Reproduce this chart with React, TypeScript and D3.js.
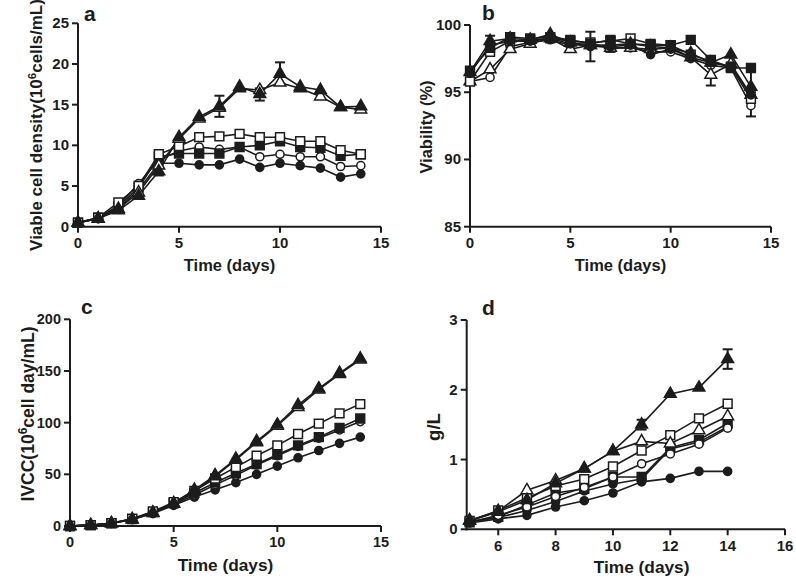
import React from "react";
import * as d3 from "d3";

const daysA = d3.range(0, 15);
const daysD = d3.range(5, 15);

// Panel a: viable cell density (10^6 cells/mL)
const aFilledCircle = [0.5, 1.0, 2.3, 4.5, 7.8, 7.8, 7.6, 7.6, 8.3, 7.3, 7.8, 7.5, 7.2, 6.1, 6.5];
const aOpenCircle = [0.5, 1.0, 2.6, 5.3, 8.2, 9.3, 9.8, 9.5, 9.8, 8.6, 8.9, 8.6, 8.6, 7.4, 7.5];
const aFilledSquare = [0.5, 1.1, 2.5, 4.8, 8.6, 9.0, 9.0, 9.0, 9.8, 10.0, 10.5, 9.8, 9.7, 8.7, 8.9];
const aOpenSquare = [0.5, 1.1, 3.0, 5.0, 8.9, 9.9, 11.0, 11.1, 11.4, 11.0, 11.0, 10.5, 10.5, 9.4, 8.9];
const aFilledTriangle = [0.5, 1.0, 2.0, 3.8, 6.8, 11.0, 13.5, 14.8, 17.2, 16.3, 18.8, 17.2, 16.8, 14.7, 14.8];
const aOpenTriangle = [0.5, 1.0, 2.2, 4.2, 7.5, 10.8, 13.3, 14.6, 17.0, 16.8, 17.7, 17.0, 16.0, 14.7, 14.4];
const aErrors = [
  { day: 4, lo: 6.3, hi: 7.4 },
  { day: 7, lo: 13.5, hi: 16.1 },
  { day: 9, lo: 15.5, hi: 17.0 },
  { day: 10, lo: 17.5, hi: 20.2 },
];

// Panel b: viability (%)
const bFilledSquare = [96.6, 98.3, 99.1, 99.0, 99.1, 98.9, 98.6, 98.9, 98.6, 98.5, 98.5, 98.9, 97.4, 96.8, 96.8];
const bFilledTriangle = [96.5, 98.8, 99.0, 98.9, 99.3, 98.7, 98.5, 98.5, 98.6, 98.4, 98.3, 97.9, 97.2, 97.8, 95.4];
const bFilledCircle = [96.4, 98.5, 98.8, 98.8, 99.0, 98.6, 98.4, 98.4, 98.5, 97.8, 98.2, 97.6, 97.2, 96.9, 94.8];
const bOpenSquare = [95.8, 98.0, 98.8, 98.9, 99.0, 98.8, 98.7, 98.8, 99.0, 98.6, 98.5, 97.8, 97.3, 96.9, 94.5];
const bOpenCircle = [95.8, 96.1, 98.4, 98.7, 98.9, 98.5, 98.6, 98.3, 98.3, 98.0, 98.0, 97.5, 97.0, 96.8, 94.0];
const bOpenTriangle = [95.8, 96.7, 98.2, 98.6, 99.0, 98.2, 98.5, 98.3, 98.3, 98.2, 98.3, 97.6, 96.3, 97.1, 94.8];
const bErrors = [
  { day: 1, lo: 97.8, hi: 99.2 },
  { day: 6, lo: 97.3, hi: 99.5 },
  { day: 7, lo: 98.0, hi: 99.1 },
  { day: 12, lo: 95.5, hi: 97.0 },
  { day: 14, lo: 93.2, hi: 94.8 },
  { day: 14, lo: 95.0, hi: 96.9 },
];

// Panel c: IVCC (10^6 cell day/mL)
const cFilledTriangle = [0, 0.8, 2.6, 6.5, 13, 22, 35, 49, 65, 82, 98, 117, 133, 148, 162];
const cOpenTriangle = [0, 0.8, 2.6, 6.3, 12.5, 21.5, 34, 48, 64, 81, 97, 115, 132, 147, 161];
const cOpenSquare = [0, 0.8, 2.8, 7, 14, 23, 34, 46, 57, 68, 78, 89, 99, 109, 118];
const cFilledSquare = [0, 0.8, 2.7, 6.7, 13.5, 22, 32, 42, 51, 60, 69, 78, 86, 95, 104];
const cOpenCircle = [0, 0.8, 2.7, 6.8, 13.5, 21, 30, 40, 49, 59, 68, 77, 85, 93, 101];
const cFilledCircle = [0, 0.8, 2.5, 6.2, 12, 20, 28, 35, 42, 50, 58, 66, 73, 80, 86];

// Panel d: titre (g/L), days 5-14
const dFilledTriangle = [0.12, 0.25, 0.42, 0.66, 0.87, 1.12, 1.50, 1.94, 2.03, 2.44];
const dOpenTriangle = [0.13, 0.26, 0.56, 0.70, 0.87, 1.12, 1.26, 1.23, 1.42, 1.62];
const dOpenSquare = [0.12, 0.27, 0.45, 0.62, 0.72, 0.90, 1.13, 1.35, 1.59, 1.80];
const dOpenCircle = [0.10, 0.20, 0.32, 0.47, 0.60, 0.75, 0.94, 1.08, 1.22, 1.45];
const dFilledSquare = [0.10, 0.18, 0.35, 0.52, 0.58, 0.75, 0.75, 1.17, 1.28, 1.52];
const dFilledCircle2 = [0.11, 0.17, 0.27, 0.40, 0.55, 0.65, 0.72, 1.15, 1.25, 1.47];
const dFilledCircle = [0.09, 0.15, 0.20, 0.32, 0.41, 0.52, 0.68, 0.73, 0.83, 0.83];
const dErrors = [
  { day: 11, lo: 1.43, hi: 1.57 },
  { day: 14, lo: 2.30, hi: 2.58 },
];

const ticksA = [0, 5, 10, 15];
const yTicksA = [0, 5, 10, 15, 20, 25];
const yTicksB = [85, 90, 95, 100];
const yTicksC = [0, 50, 100, 150, 200];
const xTicksD = [6, 8, 10, 12, 14, 16];
const yTicksD = [0, 1, 2, 3];

type Shape = "circle" | "square" | "triangle";
interface Series { values: number[]; shape: Shape; filled: boolean }

const FONT = "'Liberation Sans', Arial, sans-serif";
const INK = "#1c1c1c";

const symbolFor = (shape: Shape) => {
  if (shape === "circle") return d3.symbol(d3.symbolCircle, 52)();
  if (shape === "square") return d3.symbol(d3.symbolSquare, 78)();
  return d3.symbol(d3.symbolTriangle, 60)();
};

interface PanelProps {
  letter: string;
  letterX: number;
  letterY: number;
  days: number[];
  series: Series[];
  errors: { day: number; lo: number; hi: number }[];
  xDomain: [number, number];
  xRange: [number, number];
  yDomain: [number, number];
  yRange: [number, number];
  xTicks: number[];
  yTicks: number[];
  yLabel: React.ReactNode;
  yLabelX: number;
  yLabelY: number;
  yLabelSize: number;
  xLabelY: number;
  xLabelSize: number;
  tickSize: number;
  tickLabelDy: number;
}

function Panel(p: PanelProps) {
  const x = d3.scaleLinear().domain(p.xDomain).range(p.xRange);
  const y = d3.scaleLinear().domain(p.yDomain).range(p.yRange);
  const line = d3.line<number>().x((_, i) => x(p.days[i])).y((v) => y(v));
  const x0 = p.xRange[0];
  const y0 = p.yRange[0];
  const xMid = (x(p.xTicks[0]) + x(p.xTicks[p.xTicks.length - 1])) / 2;
  return (
    <g>
      <text x={p.letterX} y={p.letterY} fontFamily={FONT} fontWeight="bold" fontSize={21} fill={INK}>
        {p.letter}
      </text>
      {/* axes */}
      <line x1={x0} x2={x0} y1={y0 + 1} y2={p.yRange[1]} stroke={INK} strokeWidth={2} />
      <line x1={x0 - 1} x2={p.xRange[1]} y1={y0} y2={y0} stroke={INK} strokeWidth={2} />
      {p.yTicks.map((t) => (
        <g key={"y" + t}>
          <line x1={x0 - 6} x2={x0} y1={y(t)} y2={y(t)} stroke={INK} strokeWidth={2} />
          <text x={x0 - 9} y={y(t) + 5} textAnchor="end" fontFamily={FONT} fontWeight="bold" fontSize={p.tickSize} fill={INK}>
            {t}
          </text>
        </g>
      ))}
      {p.xTicks.map((t) => (
        <g key={"x" + t}>
          <line x1={x(t)} x2={x(t)} y1={y0} y2={y0 + 6} stroke={INK} strokeWidth={2} />
          <text x={x(t)} y={y0 + p.tickLabelDy} textAnchor="middle" fontFamily={FONT} fontWeight="bold" fontSize={p.tickSize} fill={INK}>
            {t}
          </text>
        </g>
      ))}
      <text x={xMid} y={p.xLabelY} textAnchor="middle" fontFamily={FONT} fontWeight="bold" fontSize={p.xLabelSize} fill={INK}>
        Time (days)
      </text>
      <text
        transform={`translate(${p.yLabelX},${p.yLabelY}) rotate(-90)`}
        textAnchor="middle"
        fontFamily={FONT}
        fontWeight="bold"
        fontSize={p.yLabelSize}
        fill={INK}
      >
        {p.yLabel}
      </text>
      {/* series lines */}
      {p.series.map((s, i) => (
        <path key={"l" + i} d={line(s.values) || ""} fill="none" stroke={INK} strokeWidth={1.6} />
      ))}
      {/* error bars */}
      {p.errors.map((e, i) => (
        <g key={"e" + i} stroke={INK} strokeWidth={2}>
          <line x1={x(e.day)} x2={x(e.day)} y1={y(e.lo)} y2={y(e.hi)} />
          <line x1={x(e.day) - 5} x2={x(e.day) + 5} y1={y(e.lo)} y2={y(e.lo)} />
          <line x1={x(e.day) - 5} x2={x(e.day) + 5} y1={y(e.hi)} y2={y(e.hi)} />
        </g>
      ))}
      {/* markers */}
      {p.series.map((s, i) => (
        <g key={"m" + i}>
          {s.values.map((v, j) => (
            <path
              key={j}
              d={symbolFor(s.shape) || ""}
              transform={`translate(${x(p.days[j])},${y(v)})`}
              fill={s.filled ? INK : "#fff"}
              stroke={INK}
              strokeWidth={1.5}
            />
          ))}
        </g>
      ))}
    </g>
  );
}

export default function App() {
  const seriesA: Series[] = [
    { values: aFilledCircle, shape: "circle", filled: true },
    { values: aOpenCircle, shape: "circle", filled: false },
    { values: aFilledSquare, shape: "square", filled: true },
    { values: aOpenSquare, shape: "square", filled: false },
    { values: aOpenTriangle, shape: "triangle", filled: false },
    { values: aFilledTriangle, shape: "triangle", filled: true },
  ];
  const seriesB: Series[] = [
    { values: bOpenCircle, shape: "circle", filled: false },
    { values: bOpenTriangle, shape: "triangle", filled: false },
    { values: bOpenSquare, shape: "square", filled: false },
    { values: bFilledCircle, shape: "circle", filled: true },
    { values: bFilledTriangle, shape: "triangle", filled: true },
    { values: bFilledSquare, shape: "square", filled: true },
  ];
  const seriesC: Series[] = [
    { values: cFilledCircle, shape: "circle", filled: true },
    { values: cOpenCircle, shape: "circle", filled: false },
    { values: cFilledSquare, shape: "square", filled: true },
    { values: cOpenSquare, shape: "square", filled: false },
    { values: cOpenTriangle, shape: "triangle", filled: false },
    { values: cFilledTriangle, shape: "triangle", filled: true },
  ];
  const seriesD: Series[] = [
    { values: dFilledCircle, shape: "circle", filled: true },
    { values: dFilledCircle2, shape: "circle", filled: true },
    { values: dFilledSquare, shape: "square", filled: true },
    { values: dOpenCircle, shape: "circle", filled: false },
    { values: dOpenSquare, shape: "square", filled: false },
    { values: dOpenTriangle, shape: "triangle", filled: false },
    { values: dFilledTriangle, shape: "triangle", filled: true },
  ];
  return (
    <svg width={796} height={584} style={{ position: "absolute", left: 0, top: 0, background: "#fff" }}>
      <rect width={796} height={584} fill="#fff" />
      <Panel
        letter="a" letterX={84} letterY={21}
        days={daysA} series={seriesA} errors={aErrors}
        xDomain={[0, 15]} xRange={[78, 381]}
        yDomain={[0, 25]} yRange={[226.7, 23.3]}
        xTicks={ticksA} yTicks={yTicksA}
        yLabel={<>Viable cell density(10<tspan dy={-6} fontSize={11.5}>6</tspan><tspan dy={6}>cells/mL)</tspan></>}
        yLabelX={42} yLabelY={125} yLabelSize={17}
        xLabelY={271} xLabelSize={16.5} tickSize={15} tickLabelDy={21}
      />
      <Panel
        letter="b" letterX={482} letterY={20}
        days={daysA} series={seriesB} errors={bErrors}
        xDomain={[0, 15]} xRange={[470, 771]}
        yDomain={[85, 100]} yRange={[226.7, 25]}
        xTicks={ticksA} yTicks={yTicksB}
        yLabel="Viability (%)"
        yLabelX={432} yLabelY={127} yLabelSize={16.5}
        xLabelY={271} xLabelSize={16.5} tickSize={15} tickLabelDy={21}
      />
      <Panel
        letter="c" letterX={81} letterY={314}
        days={daysA} series={seriesC} errors={[]}
        xDomain={[0, 15]} xRange={[70, 381]}
        yDomain={[0, 200]} yRange={[526, 319.3]}
        xTicks={ticksA} yTicks={yTicksC}
        yLabel={<>IVCC(10<tspan dy={-7} fontSize={12}>6</tspan><tspan dy={7}>cell day/mL)</tspan></>}
        yLabelX={34} yLabelY={414} yLabelSize={17.5}
        xLabelY={571} xLabelSize={17.3} tickSize={14.5} tickLabelDy={21}
      />
      <Panel
        letter="d" letterX={482} letterY={315}
        days={daysD} series={seriesD} errors={dErrors}
        xDomain={[4.9, 16]} xRange={[466.7, 785]}
        yDomain={[0, 3]} yRange={[529.3, 320]}
        xTicks={xTicksD} yTicks={yTicksD}
        yLabel="g/L"
        yLabelX={440} yLabelY={427} yLabelSize={18.5}
        xLabelY={573} xLabelSize={17.3} tickSize={15} tickLabelDy={22}
      />
    </svg>
  );
}
